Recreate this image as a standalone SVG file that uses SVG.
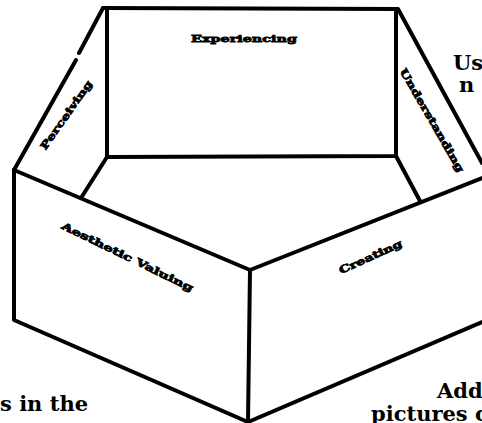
<svg xmlns="http://www.w3.org/2000/svg" width="482" height="423" viewBox="0 0 482 423">
<style>
.e{fill:none;stroke:#000;stroke-width:4;stroke-linecap:round;stroke-linejoin:round}
.l{font-family:"DejaVu Serif","Liberation Serif",serif;font-weight:bold;font-size:10px;fill:#000;stroke:#000;stroke-width:0.8}
.b{font-family:"DejaVu Serif","Liberation Serif",serif;font-weight:bold;font-size:21px;fill:#000}
</style>
<rect width="482" height="423" fill="#fff"/>
<g id="connectors">
<path class="e" d="M103,8 L398,9 L482,163"/>
<path class="e" d="M103,8 L79,53 M76,60 L14,170 L14,320 L248,422 L482,322"/>
<path class="e" d="M107,8 L107,157 L396,156 L396,9"/>
<path class="e" d="M107,157 L81,198"/>
<path class="e" d="M396,156 L420,201"/>
<path class="e" d="M14,170 L250,270 L482,178"/>
<path class="e" d="M250,270 L248,422"/>
</g>
<g id="experiencing"><text class="l" x="244" y="42" text-anchor="middle" textLength="106" lengthAdjust="spacingAndGlyphs">Experiencing</text></g>
<g id="perceiving"><text class="l" transform="translate(69,117) rotate(-55)" text-anchor="middle" textLength="82" lengthAdjust="spacingAndGlyphs">Perceiving</text></g>
<g id="understanding"><text class="l" transform="translate(429,122) rotate(60)" text-anchor="middle" textLength="118" lengthAdjust="spacingAndGlyphs">Understanding</text></g>
<g id="aesthetic"><text class="l" transform="translate(126,260) rotate(26)" text-anchor="middle" textLength="145" lengthAdjust="spacingAndGlyphs">Aesthetic Valuing</text></g>
<g id="creating"><text class="l" transform="translate(372,260) rotate(-24.5)" text-anchor="middle" textLength="68" lengthAdjust="spacingAndGlyphs">Creating</text></g>
<text class="b" x="453" y="70">Us</text>
<text class="b" x="459" y="92">n</text>
<text class="b" x="0" y="411">s in the</text>
<text class="b" x="437" y="398">Add</text>
<text class="b" x="371" y="421">pictures c</text>
</svg>
